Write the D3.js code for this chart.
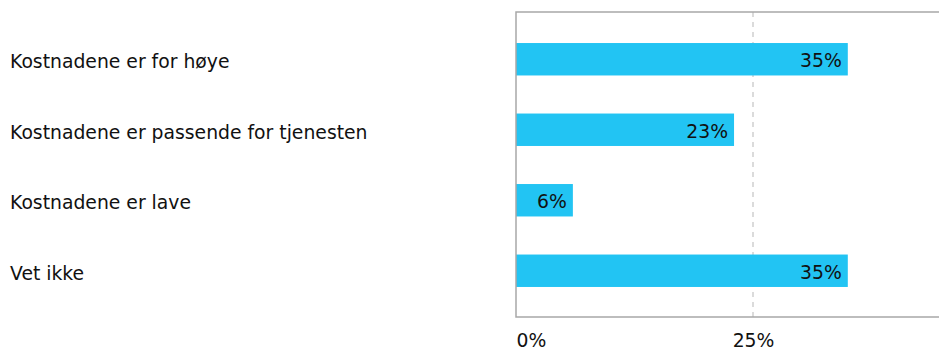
<!DOCTYPE html>
<html>
<head>
<meta charset="utf-8">
<script src="https://cdn.jsdelivr.net/npm/d3@7"></script>
<style>
  html, body { margin: 0; padding: 0; background: #fff; }
  svg { display: block; }
  text { font-family: "DejaVu Sans", Verdana, sans-serif; fill: #111; }
</style>
</head>
<body>
<svg id="chart" width="939" height="351"></svg>
<script>
// Survey answers about the cost of the service
const categories = [
  "Kostnadene er for høye",
  "Kostnadene er passende for tjenesten",
  "Kostnadene er lave",
  "Vet ikke"
];
const shares = [35, 23, 6, 35];
const tickValues = [0, 25];

const svg = d3.select("#chart");
const frame = { left: 516, top: 12, right: 990, bottom: 317 };
const fontSize = 18.8;

const x = d3.scaleLinear().domain([0, 50]).range([frame.left, frame.right]);
const y = d3.scaleBand().domain(categories).range([24, 306]).paddingInner(0.54).paddingOuter(0.27);

// dashed gridlines
svg.append("g")
  .selectAll("line")
  .data(tickValues.filter(d => d > 0))
  .join("line")
  .attr("x1", d => x(d)).attr("x2", d => x(d))
  .attr("y1", frame.top).attr("y2", frame.bottom)
  .attr("stroke", "#d0d0d0")
  .attr("stroke-width", 1.5)
  .attr("stroke-dasharray", "5,5");

// bars
svg.append("g")
  .selectAll("rect")
  .data(categories)
  .join("rect")
  .attr("x", x(0))
  .attr("y", d => y(d))
  .attr("width", (d, i) => x(shares[i]) - x(0))
  .attr("height", y.bandwidth())
  .attr("fill", "#22c4f3");

// value labels inside bar ends
svg.append("g")
  .selectAll("text")
  .data(categories)
  .join("text")
  .attr("x", (d, i) => x(shares[i]) - 6)
  .attr("y", d => y(d) + y.bandwidth() / 2 + 8)
  .attr("text-anchor", "end")
  .style("font-size", fontSize + "px")
  .text((d, i) => shares[i] + "%");

// frame: left, top, bottom
svg.append("path")
  .attr("d", `M${frame.right},${frame.top}H${frame.left}V${frame.bottom}H${frame.right}`)
  .attr("fill", "none")
  .attr("stroke", "#a8a8a8")
  .attr("stroke-width", 1.5);

// category labels
const yAxis = d3.axisLeft(y).tickSize(0).tickPadding(0);
const gy = svg.append("g").attr("transform", "translate(10,0)").call(yAxis);
gy.select(".domain").remove();
gy.selectAll("text")
  .attr("text-anchor", "start")
  .attr("x", 0)
  .attr("dy", null)
  .attr("y", 9)
  .style("font-size", fontSize + "px")
  .style("font-family", null)
  .attr("fill", "#111");

// percentage axis
const xAxis = d3.axisBottom(x).tickValues(tickValues).tickSize(0).tickPadding(0).tickFormat(d => d + "%");
const gx = svg.append("g").attr("transform", `translate(0,${frame.bottom})`).call(xAxis);
gx.select(".domain").remove();
gx.selectAll("text")
  .attr("y", 30)
  .attr("dy", null)
  .attr("text-anchor", d => d === 0 ? "start" : "middle")
  .style("font-size", fontSize + "px")
  .attr("fill", "#111");
</script>
</body>
</html>
